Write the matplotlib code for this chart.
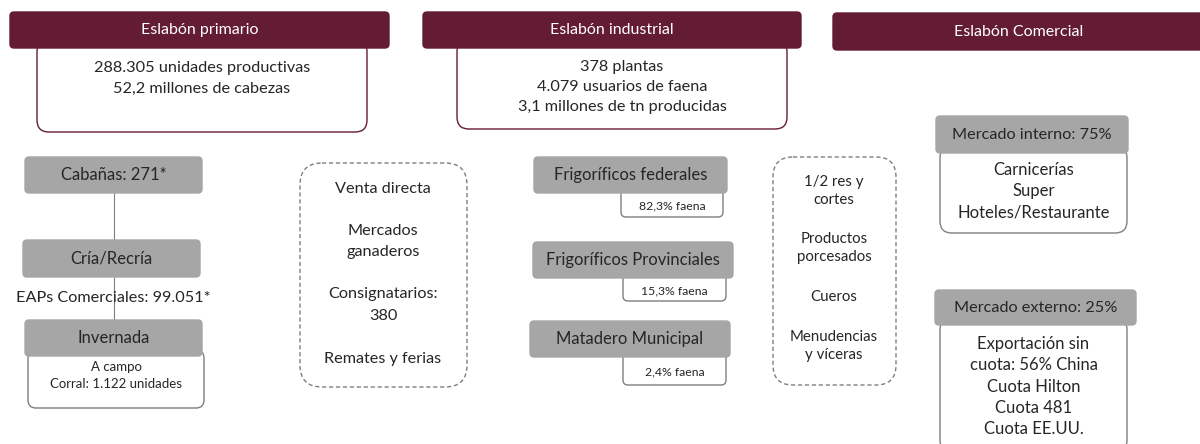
import matplotlib.pyplot as plt
from matplotlib.patches import FancyBboxPatch

plt.rcParams['font.family'] = ['Lato', 'DejaVu Sans']

# labels of the diagram
eslabones = ['Eslabón primario', 'Eslabón industrial', 'Eslabón Comercial']
resumen_primario = ['288.305 unidades productivas', '52,2 millones de cabezas']
resumen_industrial = ['378 plantas', '4.079 usuarios de faena', '3,1 millones de tn producidas']
etapas_primario = ['Cabañas: 271*', 'Cría/Recría', 'Invernada']
eaps_label = 'EAPs Comerciales: 99.051*'
invernada_detalle = ['A campo', 'Corral: 1.122 unidades']
canales = ['Venta directa', '', 'Mercados', 'ganaderos', '', 'Consignatarios:', '380', '', 'Remates y ferias']
plantas = ['Frigoríficos federales', 'Frigoríficos Provinciales', 'Matadero Municipal']
faena = ['82,3% faena', '15,3% faena', '2,4% faena']
productos = ['1/2 res y', 'cortes', '', 'Productos', 'porcesados', '', 'Cueros', '', 'Menudencias', 'y víceras']
mercados = ['Mercado interno: 75%', 'Mercado externo: 25%']
mercado_detalle = [['Carnicerías', 'Super', 'Hoteles/Restaurante'],
                   ['Exportación sin', 'cuota: 56% China', 'Cuota Hilton', 'Cuota 481', 'Cuota EE.UU.']]

MAROON = '#641c34'
GRAY = '#a6a6a6'
EDGE = '#7f7f7f'
TXT = '#262626'

fig = plt.figure(figsize=(12, 4.44), dpi=100)
ax = fig.add_axes([0, 0, 1, 1])
ax.set_xlim(0, 1200)
ax.set_ylim(444, 0)
ax.axis('off')


def box(x0, y0, x1, y1, fc='white', ec=EDGE, r=4, lw=1.0, ls='-', z=1):
    p = FancyBboxPatch((x0 + r, y0 + r), x1 - x0 - 2 * r, y1 - y0 - 2 * r,
                       boxstyle=f'round,pad={r},rounding_size={r}',
                       fc=fc, ec=ec, lw=lw, ls=ls, zorder=z)
    ax.add_patch(p)


def lines(x, ys, texts, size=11.7, color=TXT):
    for y, t in zip(ys, texts):
        if t:
            ax.text(x, y, t, ha='center', va='center', fontsize=size, color=color, zorder=5)


# header bars
header_pos = [(10, 12, 389, 48), (423, 12, 801, 48), (833, 13, 1205, 50)]
for (x0, y0, x1, y1), t in zip(header_pos, eslabones):
    box(x0, y0, x1, y1, fc=MAROON, ec=MAROON, r=4, z=3)
    ax.text((x0 + x1) / 2, (y0 + y1) / 2, t, ha='center', va='center',
            fontsize=11.5, color='white', zorder=5)

# summary boxes under the headers
box(37, 40, 367, 132, ec=MAROON, r=12, z=2)
lines(202, [68, 89], resumen_primario)
box(457, 40, 787, 129, ec=MAROON, r=12, z=2)
lines(622, [67, 87, 107], resumen_industrial)

# primary chain
ax.plot([114, 114], [193, 240], color=EDGE, lw=0.8, zorder=1)
ax.plot([114, 114], [277, 320], color=EDGE, lw=0.8, zorder=1)
etapa_pos = [(25, 157, 202, 193), (23, 240, 200, 277), (25, 320, 202, 356)]
box(28, 350, 204, 408, r=8, z=2)
lines(116, [367, 384], invernada_detalle, size=9.5)
for (x0, y0, x1, y1), t in zip(etapa_pos, etapas_primario):
    box(x0, y0, x1, y1, fc=GRAY, ec=GRAY, r=4, z=3)
    lines((x0 + x1) / 2, [(y0 + y1) / 2], [t], size=12)
ax.text(113, 298, eaps_label, ha='center', va='center', fontsize=11.7, color=TXT,
        zorder=5)

# commercialisation channels
box(300, 163, 467, 387, ec=EDGE, r=22, ls=(0, (3, 2)), z=2)
lines(383, [189, 210, 231, 252, 273, 294, 316, 338, 359], canales)

# industrial plants
planta_pos = [(534, 157, 727, 193), (533, 242, 733, 278), (530, 321, 730, 357)]
faena_pos = [(621, 188, 723, 217), (623, 273, 726, 301), (623, 352, 726, 385)]
for (x0, y0, x1, y1), (a0, b0, a1, b1), t, f in zip(planta_pos, faena_pos, plantas, faena):
    box(a0, b0, a1, b1, r=5, z=2)
    lines((a0 + a1) / 2, [(b1 + y1) / 2 + 1], [f], size=8.8)
    box(x0, y0, x1, y1, fc=GRAY, ec=GRAY, r=4, z=3)
    lines((x0 + x1) / 2, [(y0 + y1) / 2], [t], size=12)

# products
box(773, 157, 896, 385, ec=EDGE, r=20, ls=(0, (3, 2)), z=2)
lines(834, [182, 200, 219, 239, 257, 277, 297, 317, 337, 355], productos, size=10.8)

# markets
mercado_pos = [(936, 116, 1128, 153), (935, 290, 1136, 325)]
detalle_pos = [(940, 146, 1127, 233), (940, 318, 1127, 452)]
detalle_y = [[170, 191, 212], [344, 365, 387, 408, 429]]
for (x0, y0, x1, y1), (a0, b0, a1, b1), t, d, ys in zip(mercado_pos, detalle_pos, mercados,
                                                      mercado_detalle, detalle_y):
    box(a0, b0, a1, b1, r=12, z=2)
    lines((a0 + a1) / 2, ys, d, size=12)
    box(x0, y0, x1, y1, fc=GRAY, ec=GRAY, r=4, z=3)
    lines((x0 + x1) / 2, [(y0 + y1) / 2], [t], size=11.7)

fig.savefig('out.png', dpi=100, facecolor='white')
